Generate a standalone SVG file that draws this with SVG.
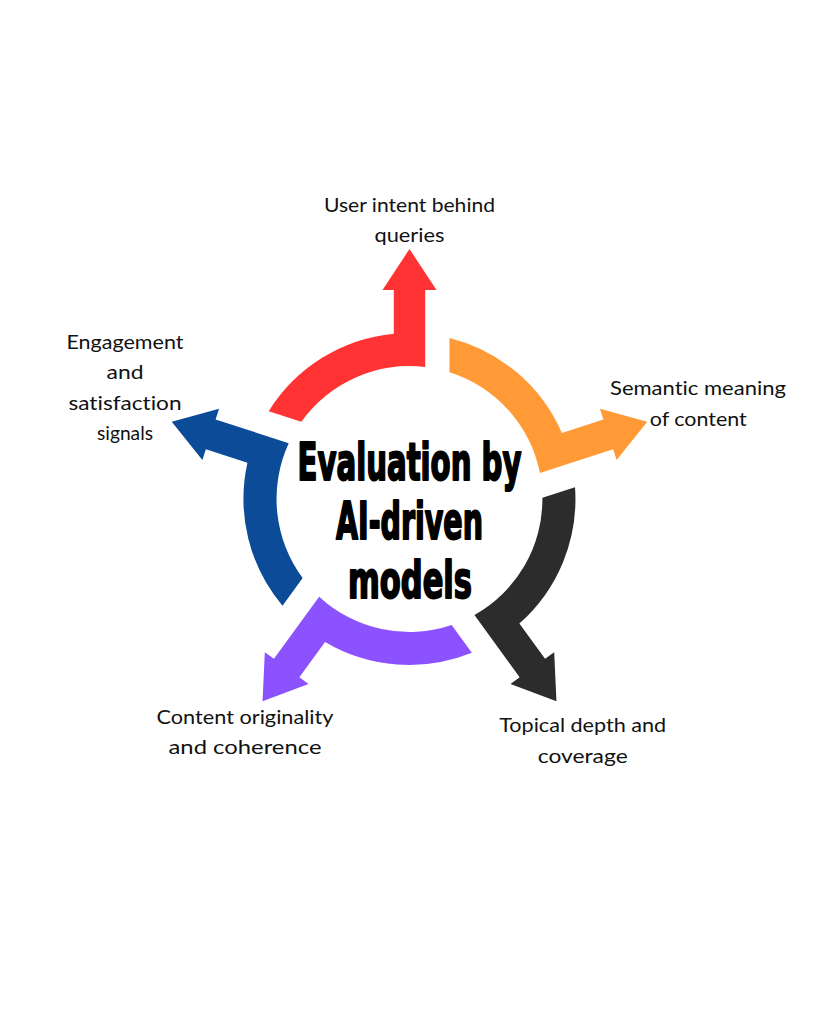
<svg xmlns="http://www.w3.org/2000/svg" xmlns:xlink="http://www.w3.org/1999/xlink" width="819" height="1024" viewBox="0 0 819 1024">
<style>
.lbl{font-family:Lato,"Open Sans","Liberation Sans",sans-serif;font-size:20px;fill:#111;text-anchor:middle;font-variant-ligatures:none;}
.ttl{font-family:"DejaVu Sans Condensed","DejaVu Sans","Liberation Sans",sans-serif;font-weight:bold;font-size:52px;fill:#000;stroke:#000;stroke-width:2px;stroke-linejoin:round;text-anchor:middle;}
</style>
<defs>
<path id="seg" d="M -140.8 -87.8 A 166 166 0 0 1 -15.7 -165.3 L -15.7 -209 L -27 -209 L 0 -250 L 27 -209 L 15.7 -209 L 15.7 -132.1 A 133 133 0 0 0 -108.2 -77.2 Z"/>
</defs>
<rect width="819" height="1024" fill="#fff"/>
<g id="arrows" transform="translate(409.5,499)">
<use id="arrow-user-intent" xlink:href="#seg" href="#seg" fill="#ff3333"/>
<use id="arrow-semantic" xlink:href="#seg" href="#seg" fill="#ff9a36" transform="rotate(72)"/>
<use id="arrow-topical" xlink:href="#seg" href="#seg" fill="#2c2c2c" transform="rotate(144)"/>
<use id="arrow-originality" xlink:href="#seg" href="#seg" fill="#8c52ff" transform="rotate(216)"/>
<use id="arrow-engagement" xlink:href="#seg" href="#seg" fill="#0b4b97" transform="rotate(288)"/>
</g>
<g id="node-center">
<text class="ttl" x="409.5" y="480" textLength="224" lengthAdjust="spacingAndGlyphs">Evaluation by</text>
<text class="ttl" x="409.5" y="538.5" textLength="147" lengthAdjust="spacingAndGlyphs">AI-driven</text>
<text class="ttl" x="410" y="598" textLength="124" lengthAdjust="spacingAndGlyphs">models</text>
</g>
<g id="node-user-intent">
<text class="lbl" x="409.5" y="211.5" textLength="171" lengthAdjust="spacingAndGlyphs">User intent behind</text>
<text class="lbl" x="409.5" y="242" textLength="70" lengthAdjust="spacingAndGlyphs">queries</text>
</g>
<g id="node-semantic">
<text class="lbl" x="698" y="395" textLength="176" lengthAdjust="spacingAndGlyphs">Semantic meaning</text>
<text class="lbl" x="698.3" y="425.5" textLength="97" lengthAdjust="spacingAndGlyphs">of content</text>
</g>
<g id="node-topical">
<text class="lbl" x="582.7" y="732" textLength="167" lengthAdjust="spacingAndGlyphs">Topical depth and</text>
<text class="lbl" x="582.7" y="762.5" textLength="90" lengthAdjust="spacingAndGlyphs">coverage</text>
</g>
<g id="node-originality">
<text class="lbl" x="245" y="723.5" textLength="177" lengthAdjust="spacingAndGlyphs">Content originality</text>
<text class="lbl" x="245" y="754" textLength="153" lengthAdjust="spacingAndGlyphs">and coherence</text>
</g>
<g id="node-engagement">
<text class="lbl" x="125" y="348.5" textLength="117" lengthAdjust="spacingAndGlyphs">Engagement</text>
<text class="lbl" x="125" y="379" textLength="37" lengthAdjust="spacingAndGlyphs">and</text>
<text class="lbl" x="125" y="409.5" textLength="113" lengthAdjust="spacingAndGlyphs">satisfaction</text>
<text class="lbl" x="125" y="440" textLength="56" lengthAdjust="spacingAndGlyphs">signals</text>
</g>
</svg>
